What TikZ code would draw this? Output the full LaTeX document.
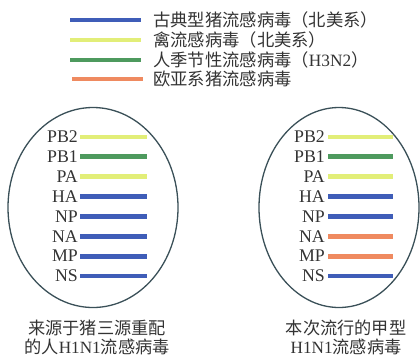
\documentclass[tikz,border=0pt]{standalone}
\usepackage{fontspec}
\setmainfont{Liberation Serif}
\newfontfamily\cjk{Noto Sans CJK SC}
\definecolor{cblue}{HTML}{3F5DB8}
\definecolor{cyel}{HTML}{E2EE78}
\definecolor{cgreen}{HTML}{4E9A5E}
\definecolor{corange}{HTML}{EF8A60}
\definecolor{ctext}{HTML}{333333}
\definecolor{cring}{HTML}{3A5058}
\begin{document}
\begin{tikzpicture}[x=1pt,y=-1pt,
  seg/.style={line width=4.8pt},
  legtext/.style={anchor=west,inner sep=0pt,text=ctext,font=\fontsize{17.3}{18}\selectfont},
  genelabel/.style={anchor=east,inner sep=0pt,text=ctext,font=\fontsize{17.8}{18}\selectfont},
  caption/.style={align=center,inner sep=0pt,text=ctext,font=\fontsize{17.2}{19.5}\selectfont},
  ring/.style={draw=cring,line width=1.3pt}]
\useasboundingbox (0,0) rectangle (420,357);
% legend
\coordinate (l1a) at (70,20);  \coordinate (l1b) at (141,20);
\coordinate (l2a) at (70,40);  \coordinate (l2b) at (141,40);
\coordinate (l3a) at (70,60);  \coordinate (l3b) at (141,60);
\coordinate (l4a) at (72,79);  \coordinate (l4b) at (143,79);
\draw[seg,cblue] (l1a) -- (l1b);
\draw[seg,cyel] (l2a) -- (l2b);
\draw[seg,cgreen] (l3a) -- (l3b);
\draw[seg,corange] (l4a) -- (l4b);
\node[legtext] (t1) at (153,20) {\cjk 古典型猪流感病毒（北美系）};
\node[legtext] (t2) at (153,40) {\cjk 禽流感病毒（北美系）};
\node[legtext] (t3) at (153,60) {{\cjk 人季节性流感病毒（}H3N2{\cjk ）}};
\node[legtext] (t4) at (153,79) {\cjk 欧亚系猪流感病毒};
% ellipses
\draw[ring] (93,207.5) ellipse [x radius=85, y radius=100];
\draw[ring] (339,207.5) ellipse [x radius=80, y radius=100];
% left genes
\foreach \g/\c [count=\i from 0] in {PB2/cyel,PB1/cgreen,PA/cyel,HA/cblue,NP/cblue,NA/cblue,MP/cblue,NS/cblue}{
  \pgfmathsetmacro{\yy}{137+19.85*\i}
  \node[genelabel] (L\g) at (78,\yy) {\g};
  \coordinate (La\g) at (80,\yy);
  \coordinate (Lb\g) at (147,\yy);
  \draw[seg,\c] (La\g) -- (Lb\g);
}
% right genes
\foreach \g/\c [count=\i from 0] in {PB2/cyel,PB1/cgreen,PA/cyel,HA/cblue,NP/cblue,NA/corange,MP/corange,NS/cblue}{
  \pgfmathsetmacro{\yy}{137+19.85*\i}
  \node[genelabel] (R\g) at (325,\yy) {\g};
  \coordinate (Ra\g) at (328,\yy);
  \coordinate (Rb\g) at (393,\yy);
  \draw[seg,\c] (Ra\g) -- (Rb\g);
}
% captions
\node[caption] (c1) at (97,337.5) {{\cjk 来源于猪三源重配}\\{\cjk 的人}H1N1{\cjk 流感病毒}};
\node[caption] (c2) at (346,337.5) {{\cjk 本次流行的甲型}\\H1N1{\cjk 流感病毒}};
\end{tikzpicture}
\end{document}
